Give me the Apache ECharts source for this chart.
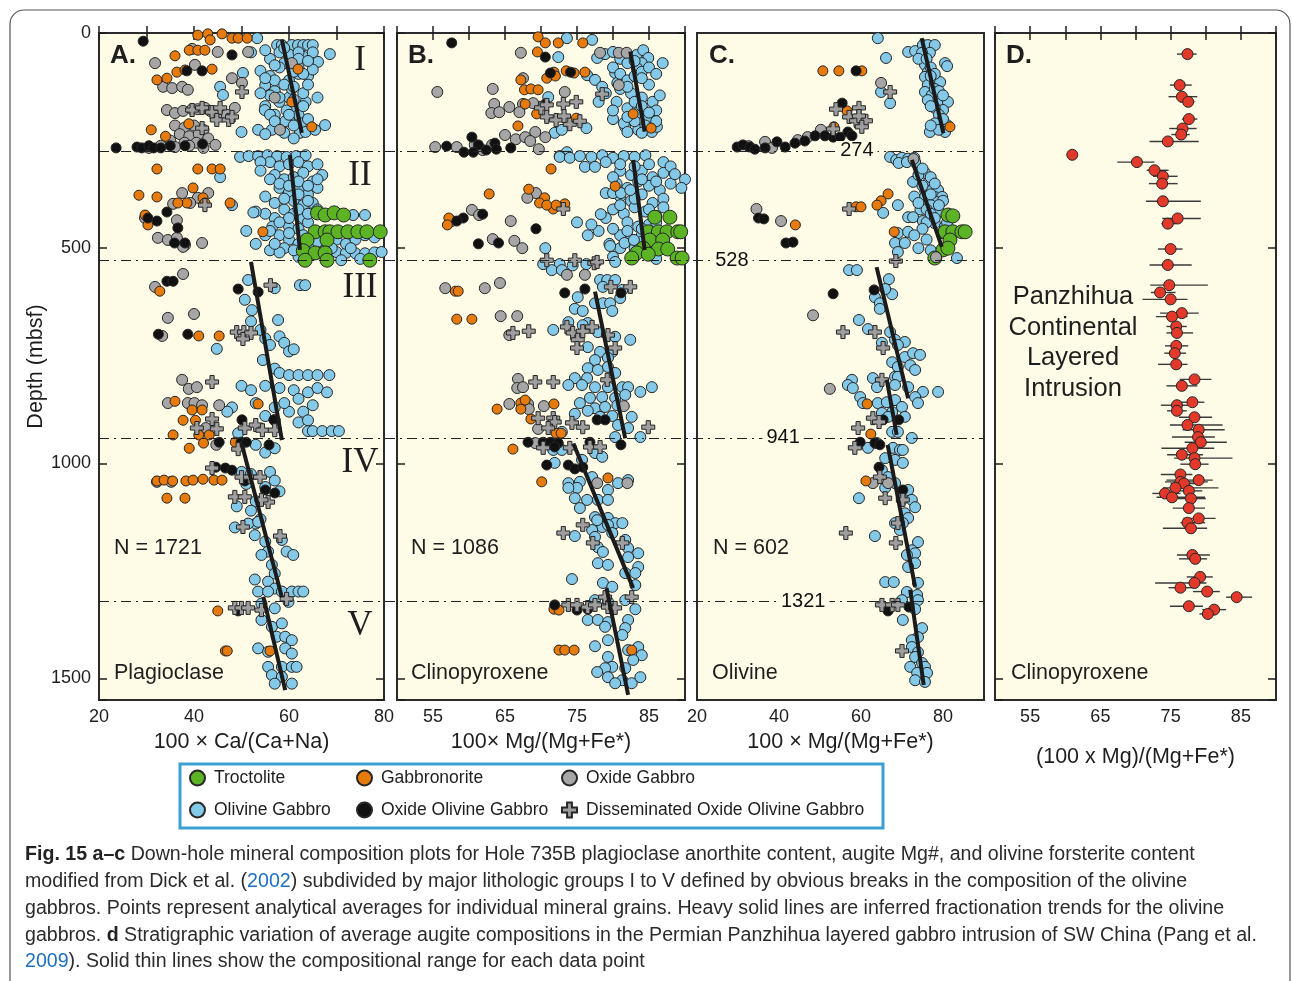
<!DOCTYPE html>
<html>
<head>
<meta charset="utf-8">
<title>Hole 735B down-hole mineral composition</title>
<script src="https://cdn.jsdelivr.net/npm/echarts@6/dist/echarts.min.js"></script>
<style>
  html, body { margin: 0; padding: 0; background: #fff; }
  #main { width: 1292px; height: 981px; }
</style>
</head>
<body>
<div id="main"></div>
<script>
// ---- data: [value, depth (mbsf)] ----

// A. plagioclase, 100 x Ca/(Ca+Na)
const plagOlivineGabbro = [
  [53.3,12],[57.5,28],[58.5,28],[60.6,28],[61.9,28],[63,28],[64,28],[65,28],[68.6,49],[66.1,67],[54,88],[56,100],[55,121],[57,135],[58,160],[60,150],[61,175],[62,190],[60,200],[62.5,210],[63.5,160],[64,100],[59,70],[61,60],[56,60],[57,110],[55,170],[58,220],[53.5,225],[56.4,225],[58.5,225],[62.3,232],[63.5,230],[67.6,214],[50.3,93],[45.5,125],[46.1,144],[54.9,179],[59.2,205],[60.6,130],[62,95],[63,140],[59.5,180],[57,190],[60,110],[58,80],[62,80],[65,85],[61,245],[65.5,225],[50,230],[52,45],
  [55,40],[58,45],[60,50],[63,55],[65,45],[57,75],[61,90],[63,95],[55,105],[59,120],[61,125],[64,120],[56,145],[58,150],[61,155],[63,170],[56,190],[60,190],[64,200],[57,205],[61,215],[55,235],[59,232],[54,140],[66,150],[62,45],[59,35],[62,60],[64,65],
  [49.7,288],[51.5,286],[53.5,286],[55.5,284],[57.5,286],[59.5,288],[61.5,286],[63.5,284],[56,300],[58,310],[60,305],[62,300],[64,310],[66,305],[57,330],[59,340],[61,335],[63,325],[65,345],[67,330],[58,360],[60,370],[62,365],[64,375],[66,360],[61,390],[63,400],[65,395],[59,410],[61,420],[63,430],[60,450],[62,455],[58,470],[60,480],[62,490],[59,500],[64,440],[57,430],[55,420],[53,415],[51,460],[48,400],[45.5,335],[52.5,417],[54,300],[56.5,450],[55,470],[53,490],[56,505],[58,510],[62,520],[65,515],[67.5,505],[66,512],[68,509],[70,509],[72,511],[74,512],[76,512],[78,510],[79.5,509],[71,528],[75,525],[73.5,423],[76,423],
  [54,320],[56,340],[58,350],[60,355],[62,345],[64,355],[66,340],[55,380],[57,395],[59,385],[62,375],[64,390],[66,410],[60,430],[62,410],[64,420],[58,440],[56,460],[60,465],[63,470],[57,490],[61,505],[64,495],[66,485],[68,470],[70,480],[72,490],[74,480],[76,470],[78,475],[69,500],[73,500],
  [51.4,574],[57,593],[62.3,586],[63.4,586],[50.7,620],[52.2,644],[57.7,667],[44.8,734],[52,670],[54,690],[55,710],[56,725],[58,705],[59,720],[60,740],[61,735],[54.5,760],[57,780],[58,790],[60,795],[62,795],[64,795],[66,795],[68.5,795],[50,820],[52,830],[55,820],[58,825],[61,830],[64,835],[66,825],[68,835],[53,860],[57,870],[60,880],[63,880],[65,865],[62,905],[64,925],[65,925],[67,925],[69,925],[70.5,925],[48,870],[47,880],[62,850],[59,860],[57,900],[55,890],[64,900],
  [49.3,930],[53,957],[55,975],[57,965],[50,1020],[52,1025],[56,1020],[57,1040],[51,1048],[55,1055],[58,1065],[53,1088],[49,1100],[52,1110],[54,1130],[53,1140],
  [48.6,1149],[51.4,1140],[53.5,1136],[52.8,1167],[55,1182],[55.6,1205],[58.5,1178],[59.5,1205],[60.9,1213],[54.2,1213],[56.4,1236],[57,1256],[52.8,1270],[55.6,1275],[57,1291],[53.5,1298],[55.6,1298],[58.5,1298],[60.6,1298],[62,1298],[63,1298],
  [54.2,1326],[57,1337],[59.9,1322],[54.2,1364],[56.4,1380],[58.5,1372],[57.4,1403],[59.2,1403],[60.6,1411],[53.5,1430],[55.6,1438],[59.2,1430],[60.6,1442],[55.6,1473],[58.5,1473],[60.6,1473],[61.6,1473],[56.4,1492],[58.5,1496],[60.6,1512],[57,1512]
];
const plagTroctolite = [[66,418],[67.6,423],[69.5,418],[71.5,423],[65.5,462],[67.6,462],[68.6,462],[70.3,462],[72.4,462],[74.5,462],[76.4,462],[79.2,462],[63.8,481],[68,481],[63,506],[65.5,511],[67.6,511],[63.4,528],[68,528],[77,528]];
const plagGabbronorite = [
  [40.8,5],[42.9,2],[43.4,16],[45.9,2],[48,12],[49.3,12],[51.2,12],[39,40],[40.8,40],[42.3,40],[36,53],[43.8,84],[32.2,109],[34.3,105],[36.4,91],[38.1,86],[31,225],[34,240],[38.9,211],[64.8,218],[61.9,84],[60.6,160],
  [32.2,316],[40.8,316],[43.8,316],[45.5,316],[28.4,377],[32.2,381],[39.8,360],[41.9,383],[38.5,395],[36.6,395],[47.6,395],[42.3,395],[29.7,423],[30.3,446],[54.5,462],
  [32.8,600],[41,704],[45.3,704],[36,856],[37.7,900],[40.3,900],[39.6,876],[41.7,876],[53.5,862],[35.6,934],[41,934],[43.2,934],[42,953],[39,965],[48.7,951],
  [32.2,1041],[33.7,1039],[35.5,1041],[38.3,1041],[39.8,1039],[41.9,1037],[44.2,1039],[45.9,1039],[34.3,1081],[38.1,1081],
  [45,1343],[46.6,1436],[47,1436],[56,1436]
];
const plagOxideGabbro = [
  [31.8,70],[39.6,37],[45,44],[51.4,44],[40.2,74],[48,105],[50.1,116],[33.5,125],[35.4,128],[37.5,125],[38.7,132],[34.3,179],[36,186],[37.7,181],[39.6,177],[40.8,177],[42.3,174],[43.4,181],[45,186],[46.9,190],[48.6,174],[36,215],[38,220],[40,215],[42,225],[37,235],[39,240],[41,235],[43,245],[35,250],[38,255],[40.5,255],[33,262],[36,265],[39,262],[42,267],[44.5,260],[30.5,267],[58.1,225],[60.6,70],[57,150],
  [43,372],[40.8,383],[39.2,395],[35.6,397],[29.7,430],[37.5,372],[36.4,435],[32.4,476],[34.5,481],[36.4,476],[38.1,493],[41.7,488],[37.7,497],
  [31.8,590],[37.7,560],[34.5,662],[40,653],[33.3,704],[37.5,806],[38.9,827],[40.6,823],[34.5,860],[38.7,860],[40.1,860],[41.7,865],[45.3,865],[42.5,918],[44.7,957],[32.2,1043],[35.2,1043]
];
const plagOxideOlivineGabbro = [
  [23.6,267],[29.3,19],[48,51],[38.5,88],[41.7,88],[28,265],[29,267],[30.5,262],[31.5,267],[33,267],[35,262],[38.1,262],[41.8,258],
  [34.3,416],[30.3,430],[32.2,437],[36.6,453],[35.9,488],[38.1,488],
  [34.3,577],[35.6,577],[49.3,595],[53.5,602],[32.5,700],[38.7,700],[50.1,899],[56.8,899],[45.3,951],[49.9,951],[51,951],[55.8,957],
  [44.6,1009],[46.6,1011],[48,1016],[50.7,1041],[55,1062],[57,1069],[49.3,1343]
];
const plagDisseminated = [
  [50.1,137],[39.6,179],[41.7,174],[43.8,184],[45.5,174],[44.8,202],[47.3,202],[48,195],[41.7,221],[42.3,400],
  [56.1,586],[49,695],[50.5,695],[52,697],[50.3,711],[43.8,811],[43.8,897],[40.6,918],[44.8,920],[50.7,918],[53,911],[54.4,923],[57,923],[49.3,967],
  [43.8,1011],[50,1032],[51.8,1032],[53.9,1032],[48.6,1078],[50.7,1078],[55.6,1090],[54.2,1085],[50.3,1148],[58.1,1169],[48.6,1336],[50,1336],[51.4,1336],[54.2,1341],[59.5,1315]
];

// B. clinopyroxene, 100 x Mg/(Mg+Fe*)
const cpxOlivineGabbro = [
  [73.6,12],[77.1,16],[72.4,56],[77.8,58],[78.9,49],[76.4,98],[77.5,109],[78.5,125],[80.3,93],[80.6,116],[80,44],[81.7,49],[83.3,51],[84.2,40],[84.9,58],[84,70],[83.3,81],[86.9,70],[71,149],[71.9,232],[72.9,225],[76.3,221],[81.7,218],[83.5,225],[85.4,230],[86.1,218],[73.6,277],[72.6,286],
  [80,80],[81,95],[82,110],[83,100],[84,90],[85,120],[81,130],[82.5,140],[84,150],[85.5,160],[86.5,145],[80.5,160],[82,175],[83.5,185],[85,195],[86,180],[80,200],[81.5,210],[83,205],[84.5,215],[86,205],[82,230],[84,232],
  [81,60],[82,70],[83,65],[85,80],[86,95],[84,105],[82,125],[83,160],[84,170],[85,185],[82,195],[80,180],[78,160],[79,140],
  [72.6,288],[74,290],[75.4,286],[77,288],[78.5,284],[80,290],[81.5,286],[83,288],[84.5,284],[76.1,311],[77.5,311],
  [81,320],[82.5,330],[84,320],[85.5,335],[87,325],[80.5,350],[82,360],[83.5,345],[85,355],[86.5,365],[81,380],[82.5,390],[84,375],[85.5,395],[87,385],[80,410],[81.5,420],[83,405],[84.5,415],[86,425],[82,440],[83.5,450],[85,445],[81,470],[82.5,480],[84,470],[85.5,490],[83,500],[79,430],[78,460],[79.5,490],
  [79,300],[81,305],[83,310],[85,305],[87,300],[88,310],[80,335],[84,340],[86,345],[88,350],[81,400],[83,385],[85,410],[87,405],[80,455],[82,460],[84,455],[86,440],[81,500],[84,485],[80,520],[83,520],[86,525],
  [88.6,328],[90,340],[89.5,360],[79,372],[80,372],[81.1,372],[82.4,365],[78.3,421],[81.6,488],[82.9,481],[79.6,495],[70.6,500],[76.5,470],[75,440],[77,445],
  [70.3,537],[72.6,537],[74.4,540],[76.3,537],[80.3,532],[71.5,551],[72.9,551],
  [78.2,574],[79.2,574],[80.3,574],[78.6,590],[81.3,597],[81,616],[77.5,628],[78.6,628],[79.6,628],[79.9,646],[74.7,641],[75.8,646],[75.1,614],[73.8,672],[76.5,674],[75.8,679],[77.9,695],[80.3,706],[82.4,713],[76.5,730],[78.2,741],[79.9,741],[77.5,760],[79.3,755],[76.5,779],[77.9,783],[79.3,776],[80.3,790],[74.7,802],[76.4,802],[73.8,818],[75.7,818],[77.5,823],[79.3,823],[81.3,823],[82.1,823],[83.8,834],[85.4,823],[76.8,848],[78.5,846],[80.3,848],[81.7,841],[75.4,860],[77.5,872],[78.9,869],[80.6,865],[74.7,885],[76.5,878],[78.2,892],[79.9,890],[82.6,892],[80.7,911],[82.1,918],[83.8,939],[80.3,939],[72.9,927],[71.7,690],
  [71.7,969],[72.9,969],[77.5,976],[75.7,992],[78.5,985],[71.9,999],[73.8,1046],[75.4,1043],[77.1,1032],[79.3,1062],[75,1057],[73.8,1057],[76.4,1085],[77.9,1085],[79.3,1085],[80.7,1046],[82.1,1039],[74.7,1081],[75.4,1104],[77.5,1125],[79.3,1127],[80.3,1139],[78.5,1148],[77.1,1155],
  [74.7,1169],[74.3,1269],[77.8,1132],[79.3,1143],[81.3,1139],[77.5,1171],[79.9,1162],[81.7,1178],[77.9,1195],[78.6,1206],[82.1,1197],[83.5,1209],[77.9,1232],[79.3,1236],[82.1,1218],[83.5,1241],[81.7,1255],[83.1,1255],[83.1,1283],[78.6,1278],[79.9,1287],[77.5,1318],[79.3,1322],[81.7,1318],[83.1,1339],[76.5,1364],[77.9,1364],[79.3,1369],[82.1,1364],[78.9,1380],[81.7,1383],[79.3,1411],[77.5,1425],[81.3,1399],[83.5,1427],[82.1,1434],[84,1446],[82.8,1457],[79.3,1450],[79.9,1473],[81.7,1476],[78.9,1476],[79.3,1497],[81.3,1504],[82.6,1511],[83.8,1497],[77.8,1485],[80.3,1511]
];
const cpxTroctolite = [[85.8,428],[87.9,428],[84.9,462],[86.3,462],[87.5,462],[89,462],[89.4,462],[85.1,481],[86.9,481],[84.2,500],[86.3,502],[87.6,502],[83.3,511],[84.9,514],[82.6,523],[88.9,523],[89.6,523]];
const cpxGabbronorite = [
  [69.6,9],[70.6,23],[72.4,23],[75.8,23],[69.5,44],[71.8,91],[73.5,88],[74.6,93],[76.1,91],[67.2,109],[70.8,105],[72,100],[67.7,132],[68.6,130],[69.6,132],[67.8,165],[69.4,188],[74.9,198],[66.8,216],[82.8,188],[85.3,221],
  [71.4,316],[62.8,374],[68.3,363],[70.5,383],[69.8,395],[71.7,409],[73.3,397],[70.8,400],[72.1,400],[57.2,430],[57,446],[80.3,356],
  [58.1,600],[58.5,600],[58.3,665],[60.4,665],[63.9,874],[67.2,860],[67.2,874],[67.8,853],[68.6,897],[71.8,862],[72.1,930],[72.8,930],[66.1,967],[70.1,1043],[79.3,1034],
  [71.8,1339],[72.5,1341],[72.5,1434],[73.3,1434],[74.6,1434],[82.6,1434]
];
const cpxOxideGabbro = [
  [67.2,46],[78.2,46],[80.8,46],[81.9,46],[63.3,130],[67.5,105],[73.3,137],[80.8,121],[55.6,137],[63.5,165],[65.6,172],[67.5,165],[68.9,163],[63.1,186],[64.2,184],[67,184],[65,237],[66.5,247],[67.8,242],[69.2,230],[70.6,242],[68.5,251],[55.3,265],[58.3,265],[60.8,260],[63.2,260],[61.9,272],[69.7,270],
  [69.3,372],[68.1,383],[60.4,411],[61.4,423],[57.6,437],[65.8,437],[63.3,479],[66.3,483],[67.4,500],
  [56.7,593],[62.2,593],[64.3,581],[64.4,658],[66.7,658],[65.6,702],[66.8,804],[66.7,825],[67.5,823],[65.6,862],[68.2,862],[68.3,874],[70.4,867],[69.6,920],[69.2,953],[73.6,562],[76.1,562],[81.5,867],[77.8,1046],[82,1046]
];
const cpxOxideOlivineGabbro = [
  [57.6,23],[70.6,56],[71.3,93],[74.1,91],[70.6,165],[60.4,242],[61.3,260],[63.6,256],[56.9,263],[59.3,277],[60.6,277],[62.4,272],[65.8,267],[63.8,270],
  [59.2,430],[58.3,437],[61.9,421],[69.3,455],[61.3,490],[64.1,488],
  [73.3,604],[76.1,595],[81.1,604],[81.1,957],[68.2,951],[70.3,951],[71.3,951],[72.4,953],[71.9,962],[77.8,899],[78.9,899],[76.8,951],[70.8,1004],[73.8,1004],[74.7,1013],[75.8,1009],
  [71.9,1329],[75,1341],[76.5,1339]
];
const cpxDisseminated = [
  [78.5,142],[70,174],[70.8,167],[73.1,165],[74.9,160],[70.8,195],[72.1,202],[74,212],[75.4,205],[73.2,193],[73.1,409],
  [70.8,528],[74.7,528],[77.4,535],[77.8,532],
  [79.7,590],[82.4,590],[73.6,683],[74.4,697],[75.8,693],[77.1,683],[75.1,713],[75,732],[79.3,702],[80.3,732],[66.1,697],[68.3,693],[69.2,811],[71.7,811],[79.2,806],[69.6,895],[71.7,895],[74.3,906],[75.8,916],[71.9,904],[71,918],[84.9,916],[70.3,964],[74,964],[76.8,962],[78.2,962],
  [73.1,1162],[77.2,1185],[81.3,1185],[75.8,1143],[78.9,1311],[82.6,1311],[79.3,1334],[80.3,1336],[73.8,1329],[75,1329],[76.5,1334],[77.5,1329]
];

// C. olivine, 100 x Mg/(Mg+Fe*)
const olOlivineGabbro = [
  [64.1,12],[66.1,58],[64.9,137],[67.1,163],[71.5,44],[73.2,42],[75.1,28],[76.3,28],[78,28],[76.8,46],[74.9,46],[75.6,74],[76.3,91],[75.6,102],[80.5,70],[81,77],[76.3,121],[78,116],[79.3,114],[75.6,137],[77.3,144],[79.8,160],[81.2,160],[80,179],[76.3,156],[78,174],[76.8,230],[81,214],[80.5,230],
  [74,60],[76,60],[77,80],[78,95],[77,100],[78,130],[79,135],[80,145],[77,170],[79,190],[80,200],[78,210],[79,225],[77,215],
  [67.1,288],[68.6,295],[70,290],[71.5,292],[73,290],[69.2,302],[71.2,300],[73.2,300],[75.6,325],[76.3,349],[75.6,365],[77.3,365],[78.8,365],[78,381],[79.8,381],[75.6,381],[76.3,395],[78.5,393],[72.7,346],[65.4,418],[69,400],[71.5,428],[72.7,428],[75.1,437],[69,465],[71.5,462],[68.3,488],[70.7,488],[69,509],[78,442],[79.8,465],[83.4,523],[74,330],[75,355],[77,400],[79,415],[74.5,410],[73,380],[76,440],[80.5,450],
  [75,315],[77,335],[78,350],[77,375],[80,390],[79,400],[76,410],[74,395],[77,420],[78,430],[81,440],[75,455],[73,470],[76,480],[74,500],[77,505],
  [57.1,551],[59,551],[66.8,572],[63.4,614],[64.6,628],[67.6,607],[65.9,595],[64.6,641],[59.5,667],[61.7,688],[67.1,695],[65.1,720],[68.3,713],[70.7,718],[69,725],[70.7,753],[72.7,744],[74.4,748],[67.6,765],[69,776],[72,772],[73.2,783],[68.3,799],[69,799],[62.9,802],[63.9,823],[57.8,806],[56.8,818],[58,825],[68.3,818],[71.5,823],[75.1,834],[78.8,834],[73.2,846],[73.9,860],[59.8,846],[60.5,860],[64.1,860],[66.3,858],[68.3,853],[70,869],[67.6,881],[70.7,892],[65.1,883],[66.6,892],[67.6,927],[69,927],[72.4,941],
  [61.7,964],[63.9,953],[67.8,964],[69.5,969],[70.2,969],[65.9,988],[68.3,992],[70.2,999],[65.1,1016],[66.6,1032],[65.9,1057],[68.3,1046],[71.5,1062],[70,1085],[72.4,1085],[73.2,1102],[70.7,1116],[71.5,1127],[68.3,1139],[59.5,1081],
  [63.4,1169],[73.9,1183],[72.4,1202],[73.2,1209],[71.2,1213],[73.2,1232],[71.5,1241],[65.9,1276],[68,1276],[73.9,1278],[71.2,1299],[73.7,1306],[70,1318],[73.9,1318],[73.2,1339],[70.2,1364],[74.9,1383],[73.9,1404],[72.4,1411],[72.4,1427],[73.9,1439],[73.2,1450],[74.9,1464],[72,1473],[75.6,1473],[73.7,1487],[76.1,1487],[73.2,1504],[75.6,1508],[70.2,1139],[69.5,1155]
];
const olTroctolite = [[81.2,423],[82.4,425],[80.5,462],[82.4,462],[84.6,462],[85.4,462],[81.7,481],[80,504],[81.2,500],[78,523]];
const olGabbronorite = [[50.7,88],[54.6,88],[60.2,88],[56.6,181],[53.4,218],[81.7,218],[66.6,374],[64.9,390],[63.9,400],[58.8,404],[60,404],[44,446],[68.1,462],[61.5,862],[62.4,932],[61.2,1041]];
const olOxideGabbro = [[32.6,263],[36.6,253],[38.3,267],[44.6,249],[47,242],[50.2,225],[64.9,116],[72.8,293],[34.5,409],[40.5,437],[78.3,521],[48.3,656],[52.4,827],[62.9,1046],[66.6,1046]];
const olOxideOlivineGabbro = [
  [58.8,88],[55.4,163],[29.8,265],[31.2,260],[32.9,265],[34.1,270],[36.6,267],[39.5,253],[41.5,265],[43.9,256],[46.3,251],[48.8,239],[51.2,239],[53.2,242],[54.9,242],[56.8,230],[57.8,239],
  [35,430],[36.3,432],[41.7,488],[43.4,486],[53.2,606],[63.2,597],[65.4,899],[69.2,899],[59.8,951],[63.4,953],[64.6,957],[64.4,1009],[70.2,1062],[66.6,1343],[71.7,1334]
];
const olDisseminated = [[67.1,137],[53.9,177],[59.5,174],[57.1,195],[58.8,204],[61.2,204],[59.5,193],[53.2,223],[60.2,218],[57.1,409],[68.5,530],[55.6,695],[63.4,695],[65.4,732],[65.1,806],[62.9,895],[64.4,904],[59.3,918],[58.5,964],[64.6,1032],[65.9,1081],[70.2,1085],[69,1139],[56.3,1162],[68.5,1185],[65.1,1329],[67.6,1329],[69,1329],[70,1436]];

// fractionation trends (start, end)
const plagTrends = [[[58.5,16],[62.7,232]],[[60.2,283],[62.3,504]],[[52,532],[58.5,946]],[[50,953],[58.5,1311]],[[54.6,1310],[59.2,1527]]];
const cpxTrends = [[[82.4,43],[84.4,229]],[[82.8,295],[84.4,504]],[[77.5,601],[81.7,942]],[[74.5,954],[82.8,1290]],[[79.1,1290],[82.1,1538]]];
const olTrends = [[[74.8,12],[80.1,233]],[[72.4,295],[79.7,497]],[[63.8,544],[71.5,849]],[[66.3,806],[68.7,934]],[[66.5,957],[73.2,1287]],[[72,1294],[75.3,1515]]];

// lithologic unit boundaries (mbsf) and where their labels sit in panel C
const unitBoundaries = [274, 528, 941, 1321];
const boundaryLabelMg = [59, 28.5, 41, 45.9];

// D. Panzhihua augite: [Mg#, depth, min, max]
const panzhihuaAugite = [
  [77.4,49,75.9,78.7],[76.3,121,74.9,78.0],[76.6,148,74.7,78.8],[77.5,160,76.3,78.4],[77.6,200,76.6,78.8],[76.7,222,74.8,78.7],[76.5,236,75.1,77.7],[74.6,252,72.0,79.0],[61.0,283,61.0,61.0],[70.2,300,67.4,72.7],
  [72.7,319,71.6,74.7],[73.9,333,72.5,76.0],[73.8,350,71.9,76.0],[73.9,391,71.5,79.3],[76.0,431,73.8,79.3],[74.6,443,73.7,75.8],[75.0,502,73.2,76.7],[74.6,539,72.0,78.0],[74.8,586,72.1,80.3],[73.5,603,72.2,75.7],
  [75.0,619,71.0,77.4],[76.6,651,73.5,79.0],[75.2,659,72.9,77.4],[75.8,682,74.4,77.3],[75.9,697,74.4,78.2],[75.8,727,74.2,77.5],[75.6,744,74.1,77.2],[75.8,770,73.2,77.4],[78.4,805,76.3,80.8],[76.6,820,74.4,78.8],
  [78.1,858,76.3,79.8],[75.9,865,73.6,77.6],[75.9,878,74.5,77.3],[78.4,893,76.2,80.9],[77.4,911,74.9,82.4],[79.0,922,76.7,82.7],[78.9,939,75.2,81.3],[79.3,951,77.0,83.0],[78.1,965,73.7,81.2],[76.6,980,74.5,79.6],
  [78.4,988,75.5,83.8],[78.5,1002,76.4,80.4],[76.4,1026,73.6,78.1],[79.0,1039,74.4,81.0],[76.4,1043,74.2,80.3],[76.9,1047,75.0,79.0],[75.7,1057,73.9,81.8],[77.6,1064,75.5,79.5],[74.2,1070,72.4,76.4],[75.2,1079,73.0,79.9],
  [77.9,1082,76.0,80.0],[77.6,1104,75.3,79.9],[79.0,1128,76.8,81.4],[77.4,1138,76.4,79.9],[77.9,1151,73.9,80.2],[78.1,1213,75.9,80.6],[78.5,1222,76.2,80.2],[79.2,1264,77.3,81.0],[78.4,1278,72.8,80.1],[76.4,1289,74.7,78.6],
  [80.2,1298,78.2,82.0],[84.4,1311,82.9,86.6],[77.6,1332,74.9,79.6],[81.2,1340,79.5,82.9],[80.3,1350,79.1,81.2]
];

// ---- styling ----
const FONT = '"Liberation Sans", Arial, Helvetica, sans-serif';
const PANEL_BG = '#fefbe7';
const INK = '#1e1e1e';
const crossPath = 'path://M3.4,0H6.6V3.4H10V6.6H6.6V10H3.4V6.6H0V3.4H3.4Z';

const rockStyle = {
  'Olivine Gabbro': { color: '#84c9e8', size: 11 },
  'Troctolite': { color: '#5cb425', size: 14 },
  'Oxide Gabbro': { color: '#a6a6a6', size: 11 },
  'Gabbronorite': { color: '#e67a0b', size: 10 },
  'Oxide Olivine Gabbro': { color: '#111111', size: 10 },
  'Disseminated Oxide Olivine Gabbro': { color: '#9e9e9e', size: 13, symbol: crossPath }
};

const panels = [
  { g: 0, left: 99, width: 285, sets: [plagOlivineGabbro, plagTroctolite, plagOxideGabbro, plagGabbronorite, plagOxideOlivineGabbro, plagDisseminated], trends: plagTrends },
  { g: 1, left: 397, width: 288, sets: [cpxOlivineGabbro, cpxTroctolite, cpxOxideGabbro, cpxGabbronorite, cpxOxideOlivineGabbro, cpxDisseminated], trends: cpxTrends },
  { g: 2, left: 697, width: 287, sets: [olOlivineGabbro, olTroctolite, olOxideGabbro, olGabbronorite, olOxideOlivineGabbro, olDisseminated], trends: olTrends }
];
const rockOrder = ['Olivine Gabbro', 'Troctolite', 'Oxide Gabbro', 'Gabbronorite', 'Oxide Olivine Gabbro', 'Disseminated Oxide Olivine Gabbro'];

const grids = panels.map(p => ({ left: p.left, top: 33, width: p.width, height: 667 }))
  .concat([{ left: 995, top: 33, width: 281, height: 667 }])
  .map(g => Object.assign(g, { show: true, backgroundColor: PANEL_BG, borderColor: '#2b2b2b', borderWidth: 2, outerBoundsMode: 'none' }));
// overlay grid for the unit boundaries spanning A to C
grids.push({ left: 99, top: 33, width: 885, height: 667, show: false, outerBoundsMode: 'none' });

const tick = (show, len) => ({ show, inside: true, length: len, lineStyle: { color: INK, width: 1.5 } });
const labelEvery = step => v => ((v - 55) % step === 0 ? String(v) : '');

const xAxes = [
  { gridIndex: 0, min: 20, max: 80, interval: 10, fmt: v => (v % 20 === 0 ? String(v) : ''), name: '100 \u00d7 Ca/(Ca+Na)', gap: 30, ticks: true },
  { gridIndex: 1, min: 50, max: 90, interval: 5, fmt: labelEvery(10), name: '100\u00d7 Mg/(Mg+Fe*)', gap: 30, ticks: true },
  { gridIndex: 2, min: 20, max: 90, interval: 20, fmt: v => (v % 20 === 0 ? String(v) : ''), name: '100 \u00d7 Mg/(Mg+Fe*)', gap: 30, ticks: false },
  { gridIndex: 3, min: 50, max: 90, interval: 5, fmt: labelEvery(10), name: '(100 x Mg)/(Mg+Fe*)', gap: 46, ticks: true }
].map(a => ({
  type: 'value', gridIndex: a.gridIndex, min: a.min, max: a.max, interval: a.interval,
  axisLine: { show: false }, splitLine: { show: false }, axisTick: tick(a.ticks, 7),
  axisLabel: { color: INK, fontSize: 18, fontFamily: FONT, margin: 8, formatter: a.fmt },
  name: a.name, nameLocation: 'middle', nameGap: a.gap,
  nameTextStyle: { color: INK, fontSize: 21.5, fontFamily: FONT }
}));
xAxes.push({ type: 'value', gridIndex: 4, min: 0, max: 1, show: false });
[[0, 20, 80, 10], [1, 50, 90, 5], [3, 50, 90, 5]].forEach(([g, mn, mx, iv]) => {
  xAxes.push({ type: 'value', gridIndex: g, position: 'top', min: mn, max: mx, interval: iv,
    axisLine: { show: false }, splitLine: { show: false }, axisLabel: { show: false }, axisTick: tick(true, 7) });
});

const depthAxis = (g, extra) => Object.assign({
  type: 'value', gridIndex: g, min: 0, max: 1550, interval: 500, inverse: true,
  axisLine: { show: false }, splitLine: { show: false }, axisTick: tick(g !== 2, 8),
  axisLabel: { show: false }
}, extra);
const yAxes = [
  depthAxis(0, {
    axisLabel: { show: true, color: INK, fontSize: 18, fontFamily: FONT, margin: 8, formatter: v => (v % 500 === 0 ? String(v) : '') },
    name: 'Depth (mbsf)', nameLocation: 'middle', nameGap: 52, nameRotate: 90,
    nameTextStyle: { color: INK, fontSize: 21.5, fontFamily: FONT }
  }),
  depthAxis(1), depthAxis(2), depthAxis(3),
  depthAxis(4, { show: false })
];
[0, 1, 3].forEach(g => yAxes.push(depthAxis(g, { position: 'right' })));

const series = [];
panels.forEach(p => {
  p.sets.forEach((data, i) => {
    const name = rockOrder[i];
    const st = rockStyle[name];
    series.push({
      type: 'scatter', name, xAxisIndex: p.g, yAxisIndex: p.g, data,
      symbol: st.symbol || 'circle', symbolSize: st.size, silent: true, z: 3,
      itemStyle: { color: st.color, borderColor: '#262626', borderWidth: 1, opacity: 1 }
    });
  });
  p.trends.forEach(seg => {
    series.push({
      type: 'line', xAxisIndex: p.g, yAxisIndex: p.g, data: seg, symbol: 'none', silent: true, z: 6,
      lineStyle: { color: '#1b1b1b', width: 4 }
    });
  });
});

// boundaries across panels A-C
series.push({
  type: 'line', name: 'boundaries', xAxisIndex: 4, yAxisIndex: 4, data: [], silent: true, z: 4,
  markLine: {
    silent: true, symbol: ['none', 'none'], label: { show: false },
    lineStyle: { color: '#222', width: 1.2, type: [10, 5, 2, 5] },
    data: unitBoundaries.map(d => ({ yAxis: d }))
  }
});
series.push({
  type: 'scatter', xAxisIndex: 2, yAxisIndex: 2, symbolSize: 0, silent: true, z: 8,
  itemStyle: { opacity: 1 },
  data: unitBoundaries.map((d, i) => [boundaryLabelMg[i], d]),
  label: {
    show: true, position: 'inside', formatter: p => String(p.value[1]),
    color: '#111', fontSize: 20, fontFamily: FONT, backgroundColor: PANEL_BG, padding: [0, 4]
  }
});

// D: compositional ranges + averages
series.push({
  type: 'custom', xAxisIndex: 3, yAxisIndex: 3, data: panzhihuaAugite, silent: true, z: 3,
  encode: { x: 0, y: 1 },
  renderItem: (params, api) => {
    const a = api.coord([api.value(2), api.value(1)]);
    const b = api.coord([api.value(3), api.value(1)]);
    return { type: 'line', shape: { x1: a[0], y1: a[1], x2: b[0], y2: b[1] }, style: { stroke: '#3a3a3a', lineWidth: 1.4 } };
  }
});
series.push({
  type: 'scatter', xAxisIndex: 3, yAxisIndex: 3, data: panzhihuaAugite.map(r => [r[0], r[1]]),
  symbolSize: 11, silent: true, z: 4,
  itemStyle: { color: '#e2392a', borderColor: '#262626', borderWidth: 1, opacity: 1 }
});

const legendCol = (left, names) => ({
  left, top: 769, padding: 0, orient: 'vertical', itemGap: 14, itemWidth: 15, itemHeight: 15,
  selectedMode: false, data: names,
  textStyle: { color: INK, fontSize: 17.5, fontFamily: FONT, padding: [0, 0, 0, 4] }
});

const txt = (text, x, y, size, extra) => ({
  type: 'text', silent: true, z: 20,
  style: Object.assign({ text, x, y, fill: INK, fontSize: size, fontFamily: FONT, verticalAlign: 'middle', textVerticalAlign: 'middle' }, extra || {})
});
const serif = '"Liberation Serif", "Times New Roman", serif';
const CAP_SIZE = 19.6;
const capRich = {
  b: { fontWeight: 'bold', fontSize: CAP_SIZE, fontFamily: FONT, fill: '#222' },
  l: { fontSize: CAP_SIZE, fontFamily: FONT, fill: '#1d6fc2' }
};
const captionLines = [
  '{b|Fig. 15 a\u2013c} Down-hole mineral composition plots for Hole 735B plagioclase anorthite content, augite Mg#, and olivine forsterite content',
  'modified from Dick et al. ({l|2002}) subdivided by major lithologic groups I to V defined by obvious breaks in the composition of the olivine',
  'gabbros. Points represent analytical averages for individual mineral grains. Heavy solid lines are inferred fractionation trends for the olivine',
  'gabbros. {b|d} Stratigraphic variation of average augite compositions in the Permian Panzhihua layered gabbro intrusion of SW China (Pang et al.',
  '{l|2009}). Solid thin lines show the compositional range for each data point'
];

const graphics = [
  { type: 'rect', silent: true, z: 0, shape: { x: 10, y: 10, width: 1280, height: 1000, r: 14 }, style: { fill: 'none', stroke: '#555', lineWidth: 1.2 } },
  { type: 'rect', silent: true, z: 1, shape: { x: 180, y: 764, width: 703, height: 64 }, style: { fill: '#fff', stroke: '#3b9fd4', lineWidth: 3 } },
  txt('A.', 110, 56, 26, { fontWeight: 'bold' }),
  txt('B.', 408, 56, 26, { fontWeight: 'bold' }),
  txt('C.', 709, 56, 26, { fontWeight: 'bold' }),
  txt('D.', 1006, 56, 26, { fontWeight: 'bold' }),
  txt('I', 360, 61, 35, { fontFamily: serif, align: 'center', textAlign: 'center' }),
  txt('II', 360, 176, 35, { fontFamily: serif, align: 'center', textAlign: 'center' }),
  txt('III', 360, 288, 35, { fontFamily: serif, align: 'center', textAlign: 'center' }),
  txt('IV', 360, 463, 35, { fontFamily: serif, align: 'center', textAlign: 'center' }),
  txt('V', 360, 626, 35, { fontFamily: serif, align: 'center', textAlign: 'center' }),
  txt('N = 1721', 114, 548, 21.5),
  txt('N = 1086', 411, 548, 21.5),
  txt('N = 602', 713, 548, 21.5),
  txt('Plagioclase', 114, 673, 21.5),
  txt('Clinopyroxene', 411, 673, 21.5),
  txt('Olivine', 712, 673, 21.5),
  txt('Clinopyroxene', 1011, 673, 21.5),
  txt('Panzhihua', 1073, 297, 25.5, { align: 'center', textAlign: 'center' }),
  txt('Continental', 1073, 328, 25.5, { align: 'center', textAlign: 'center' }),
  txt('Layered', 1073, 358, 25.5, { align: 'center', textAlign: 'center' }),
  txt('Intrusion', 1073, 389, 25.5, { align: 'center', textAlign: 'center' })
];
captionLines.forEach((line, i) => {
  graphics.push({
    type: 'text', silent: true, z: 20,
    style: { text: line, x: 25, y: 855 + i * 26.7, fill: '#2b2b2b', fontSize: CAP_SIZE, fontFamily: FONT, verticalAlign: 'middle', textVerticalAlign: 'middle', rich: capRich }
  });
});

const chart = echarts.init(document.getElementById('main'), null, { renderer: 'canvas' });
chart.setOption({
  animation: false,
  backgroundColor: '#ffffff',
  textStyle: { fontFamily: FONT },
  grid: grids,
  xAxis: xAxes,
  yAxis: yAxes,
  legend: [
    legendCol(189, ['Troctolite', 'Olivine Gabbro']),
    legendCol(356, ['Gabbronorite', 'Oxide Olivine Gabbro']),
    legendCol(561, ['Oxide Gabbro', 'Disseminated Oxide Olivine Gabbro'])
  ],
  graphic: graphics,
  series
});
</script>
</body>
</html>
